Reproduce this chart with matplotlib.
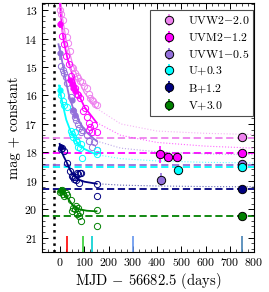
import numpy as np
import matplotlib
matplotlib.use('Agg')
import matplotlib.pyplot as plt

plt.rcParams['font.family'] = 'serif'
plt.rcParams['font.serif'] = ['cmr10', 'DejaVu Serif']
plt.rcParams['mathtext.fontset'] = 'cm'
plt.rcParams['axes.formatter.use_mathtext'] = True

# bands: label, colour
bands = ['UVW2', 'UVM2', 'UVW1', 'U', 'B', 'V']
labels = [r'UVW2$-$2.0', r'UVM2$-$1.2', r'UVW1$-$0.5', r'U$+$0.3', r'B$+$1.2', r'V$+$3.0']
colors = ['violet', 'magenta', 'mediumpurple', 'cyan', 'navy', 'green']

# open circles (early Swift data)
uvw2_t = [0, 5, 10, 20, 27, 34, 40, 48, 55, 62, 70, 75, 82, 89, 100, 110, 118, 124, 130, 137, 145, 152]
uvw2_m = [13.0, 13.15, 13.35, 13.75, 13.95, 14.17, 14.45, 15.0, 15.05, 15.2, 15.3, 15.4, 15.5, 15.52,
          15.65, 15.75, 15.95, 16.1, 16.15, 16.2, 16.3, 16.35]
uvm2_t = [8, 15, 25, 35, 45, 62, 70, 75, 82, 96, 103, 110, 118, 120, 125, 130, 140, 150]
uvm2_m = [13.9, 14.2, 14.6, 14.9, 15.3, 15.75, 15.95, 16.0, 16.1, 16.55, 16.45, 16.75, 16.95, 17.2,
          17.1, 17.3, 17.05, 17.3]
uvw1_t = [5, 10, 16, 22, 30, 45, 55, 60, 65, 72, 78, 85, 90, 110, 120, 130, 140, 150]
uvw1_m = [14.95, 15.1, 15.2, 15.35, 15.55, 16.05, 16.55, 16.75, 16.85, 17.0, 17.15, 17.3, 17.2,
          17.4, 17.6, 17.8, 17.65, 17.9]
u_t = [5, 10, 16, 27, 45, 50, 55, 60, 65, 70, 75, 80, 85, 89, 150, 150]
u_m = [16.0, 16.2, 16.35, 16.4, 17.25, 17.35, 17.45, 17.3, 17.55, 17.65, 17.8, 17.85, 17.7, 18.18,
       17.9, 18.05]
b_t = [4, 9, 14, 27, 41, 48, 52, 58, 62, 66, 69, 75, 76, 82, 88, 150, 150]
b_m = [17.89, 17.85, 17.95, 18.36, 18.65, 18.82, 18.88, 18.94, 18.85, 18.98, 18.71, 18.77, 19.08,
       18.71, 18.73, 19.12, 19.53]
v_t = [-2, 3, 8, 12, 16, 22, 27, 45, 48, 55, 62, 66, 70, 75, 78, 82, 88, 150, 150]
v_m = [19.4, 19.35, 19.33, 19.45, 19.53, 19.42, 19.5, 19.68, 20.05, 19.95, 19.99, 19.88, 20.17,
       19.94, 20.23, 20.1, 20.4, 20.03, 20.6]
open_t = [uvw2_t, uvm2_t, uvw1_t, u_t, b_t, v_t]
open_m = [uvw2_m, uvm2_m, uvw1_m, u_m, b_m, v_m]

# filled early points with error bars
early_t = [[], [-1, 41, 48, 55, 62], [0, 48, 55, 62], [0], [3], [2]]
early_m = [[], [13.5, 15.45, 15.6, 15.75, 15.85], [14.52, 16.16, 16.5, 16.68], [15.82], [17.82], [19.32]]
early_e = [[], [0.12, 0.08, 0.08, 0.08, 0.08], [0.25, 0.08, 0.08, 0.08], [0.2], [0.12], [0.1]]

# power-law fits (solid part, then dotted extension)
fit_t = [[3, 10, 25, 50, 75, 100, 150, 250, 400, 600, 800],
         [-1, 5, 15, 30, 50, 75, 100, 150, 250, 400, 600, 800],
         [-7, 0, 7, 20, 35, 55, 80, 110, 150, 250, 400, 600, 800],
         [-5, 0, 10, 25, 45, 70, 100, 150, 250, 400, 600, 800],
         [-2, 5, 15, 27, 40, 55, 75, 100, 150, 250, 400, 600, 800],
         [0, 10, 20, 35, 55, 80, 110, 150]]
fit_m = [[12.75, 13.3, 14.05, 14.85, 15.45, 15.9, 16.45, 17.0, 17.25, 17.33, 17.37],
         [12.75, 13.45, 14.1, 14.7, 15.25, 15.95, 16.4, 16.95, 17.4, 17.65, 17.78, 17.85],
         [14.2, 14.45, 14.75, 15.35, 15.95, 16.5, 16.95, 17.3, 17.6, 17.85, 17.98, 18.05, 18.08],
         [15.65, 15.85, 16.3, 16.85, 17.3, 17.65, 17.88, 18.08, 18.22, 18.3, 18.35, 18.37],
         [17.7, 17.95, 18.15, 18.35, 18.6, 18.8, 18.95, 19.03, 19.1, 19.15, 19.18, 19.2, 19.21],
         [19.3, 19.4, 19.5, 19.65, 19.9, 20.0, 20.05, 20.07]]
fit_lw = [0.9, 1.3, 1.3, 1.3, 1.3, 1.3]

# host levels
host_m = [17.48, 18.03, 18.45, 18.52, 19.27, 20.23]

# late-time points
late_t = [[752], [412, 443, 481, 752], [415, 752], [488, 752], [752], [752]]
late_m = [[17.47], [18.06, 18.16, 18.15, 18.03], [18.96, 18.41], [18.62, 18.5], [19.27], [20.23]]
late_e = [[0.03], [0.3, 0.05, 0.05, 0.03], [0.23, 0.03], [0.05, 0.03], [0.03], [0.03]]

# spectra epochs
spec_t = [28, 94, 131, 301, 749]
spec_c = ['red', 'limegreen', 'darkturquoise', 'cornflowerblue', 'steelblue']

t_peak = -27

fig = plt.figure(figsize=(2.69, 2.92), dpi=100)
ax = fig.add_axes([42 / 269, 40 / 292, 212 / 269, 249 / 292])

ax.axvline(t_peak, color='k', ls=':', lw=1.8, zorder=1)

for i in range(6):
    c = colors[i]
    ax.axhline(host_m[i], color=c, ls=(0, (4, 2)), lw=1.3, zorder=1)
    ft = np.array(fit_t[i])
    fm = np.array(fit_m[i])
    solid = ft <= 150
    ax.plot(ft[solid], fm[solid], color=c, lw=fit_lw[i], zorder=3)
    if solid.sum() < len(ft):
        k = solid.sum() - 1
        ax.plot(ft[k:], fm[k:], color=c, lw=0.8, ls=':', alpha=0.6, zorder=2)
    ax.plot(open_t[i], open_m[i], 'o', mfc='none', mec=c, ms=4.5, mew=0.7, zorder=4)
    if early_t[i]:
        ax.errorbar(early_t[i], early_m[i], yerr=early_e[i], fmt='o', color=c, ms=3.5,
                    elinewidth=1.2, capsize=0, zorder=5)
    ax.errorbar(late_t[i], late_m[i], yerr=late_e[i], fmt='o', mfc=c, mec='k', ecolor=c,
                ms=6, mew=0.7, elinewidth=1.2, capsize=0, zorder=6, label=labels[i])

for t, c in zip(spec_t, spec_c):
    ax.vlines(t, 21.5, 20.95, color=c, lw=1.2)

ax.set_xlim(-75, 800)
ax.set_ylim(21.5, 12.75)
ax.set_xticks(np.arange(0, 801, 100))
ax.set_yticks(np.arange(13, 22, 1))
ax.set_xticks(np.arange(-75, 801, 25), minor=True)
ax.set_yticks(np.arange(12.8, 21.5, 0.2), minor=True)
ax.tick_params(which='both', direction='in', top=True, right=True, labelsize=8.5, pad=3)
ax.tick_params(which='major', length=4, width=0.7)
ax.tick_params(which='minor', length=2, width=0.5)
for s in ax.spines.values():
    s.set_linewidth(0.8)

ax.set_xlabel(r'MJD $-$ 56682.5 (days)', fontsize=10.5, labelpad=2)
ax.set_ylabel('mag + constant', fontsize=10.5, labelpad=2)

leg = ax.legend(loc='upper right', bbox_to_anchor=(0.997, 0.973), borderaxespad=0,
                fontsize=8.5, fancybox=False, framealpha=1, edgecolor='0.3',
                labelspacing=0.42, handletextpad=0.4, borderpad=0.35, handlelength=2.4)
leg.get_frame().set_linewidth(0.8)

fig.savefig('out.png', dpi=100)
